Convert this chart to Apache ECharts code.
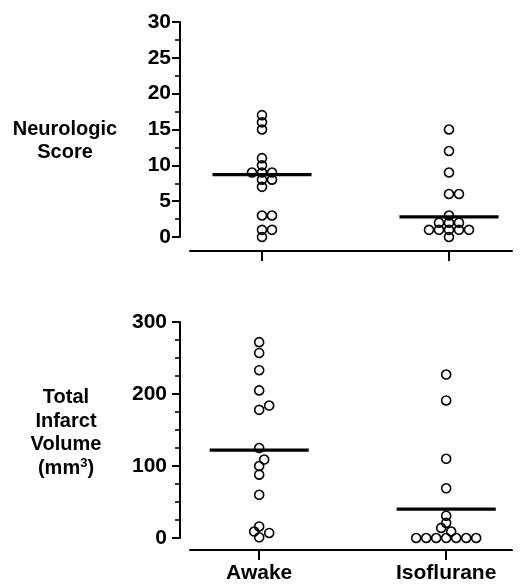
<!DOCTYPE html>
<html>
<head>
<meta charset="utf-8">
<script src="https://cdn.jsdelivr.net/npm/echarts@6/dist/echarts.min.js"></script>
<style>
    html, body { margin: 0; padding: 0; background: #fff; }
    #chart { width: 520px; height: 585px; }
</style>
</head>
<body>
<div id="chart"></div>
<script>
    // groups on the x axis
    const categories = ["Awake", "Isoflurane"];

    // neurologic score, one value per animal
    const scoreAwake = [17, 16, 15, 11, 10, 9, 9, 9, 8, 8, 7, 3, 3, 1, 1, 0];
    const scoreIso = [15, 12, 9, 6, 6, 3, 2, 2, 2, 1, 1, 1, 1, 1, 0];
    const scoreBar = [8.7, 2.8];

    // total infarct volume (mm3)
    const volumeAwake = [272, 257, 233, 205, 184, 178, 125, 109, 100, 88, 60, 16, 9, 7, 1];
    const volumeIso = [227, 191, 110, 69, 31, 21, 14, 9, 0, 0, 0, 0, 0, 0, 0];
    const volumeBar = [122, 40];

    // y axis ranges: [min, max, interval, minor splits]
    const scoreAxis = [0, 30, 5, 2];
    const volumeAxis = [0, 300, 100, 4];

    const FONT = "Liberation Sans";
    const PX_PER_X = 187;   // pixels per x unit (one group)
    const STEP = 5;         // swarm step, px
    const MIN_DIST = 7;     // px between point centres

    // simple beeswarm: spread points that would overlap sideways
    function swarm(values, group, pxPerY) {
        const sorted = values.slice().sort((a, b) => a - b);
        const placed = [];
        const out = [];
        sorted.forEach(v => {
            const y = v * pxPerY;
            for (let k = 0; k < 60; k++) {
                const dx = (k % 2 ? 1 : -1) * Math.ceil(k / 2) * STEP;
                if (placed.every(p => Math.hypot(p[0] - dx, p[1] - y) >= MIN_DIST)) {
                    placed.push([dx, y]);
                    out.push([group + dx / PX_PER_X, v]);
                    break;
                }
            }
        });
        return out;
    }

    function barLine(group, value, xIdx) {
        return {
            type: "line",
            xAxisIndex: xIdx,
            yAxisIndex: xIdx,
            symbol: "none",
            silent: true,
            lineStyle: { color: "#000", width: 3.3 },
            data: [[group - 0.265, value], [group + 0.265, value]]
        };
    }

    function dots(data, xIdx) {
        return {
            type: "scatter",
            xAxisIndex: xIdx,
            yAxisIndex: xIdx,
            symbol: "circle",
            symbolSize: 9,
            itemStyle: { color: "rgba(0,0,0,0)", borderColor: "#000", borderWidth: 1.6, opacity: 1 },
            data: data
        };
    }

    function yAxis(idx, range, margin) {
        return {
            gridIndex: idx,
            type: "value",
            min: range[0],
            max: range[1],
            interval: range[2],
            offset: 10,
            axisLine: { show: true, onZero: false, lineStyle: { color: "#000", width: 2 } },
            axisTick: { show: true, length: 8, lineStyle: { color: "#000", width: 2 } },
            minorTick: { show: true, splitNumber: range[3], length: 5, lineStyle: { color: "#000", width: 1.6 } },
            splitLine: { show: false },
            axisLabel: { color: "#000", fontSize: 21, fontWeight: "bold", fontFamily: FONT, margin: margin }
        };
    }

    function xAxis(idx, min, max, offset, showLabel) {
        return {
            gridIndex: idx,
            type: "value",
            position: "bottom",
            min: min,
            max: max,
            offset: offset,
            axisLine: { show: true, onZero: false, lineStyle: { color: "#000", width: 2 } },
            axisTick: { show: true, customValues: [0, 1], length: 10, lineStyle: { color: "#000", width: 2 } },
            splitLine: { show: false },
            axisLabel: {
                show: showLabel,
                customValues: [0, 1],
                formatter: v => categories[Math.round(v)],
                color: "#000",
                fontSize: 21,
                fontWeight: "bold",
                fontFamily: FONT,
                margin: 13
            }
        };
    }

    const scorePx = 215 / (scoreAxis[1] - scoreAxis[0]);
    const volumePx = 216 / (volumeAxis[1] - volumeAxis[0]);

    const chart = echarts.init(document.getElementById("chart"));
    chart.setOption({
        animation: false,
        grid: [
            { left: 190, right: 8, top: 22, height: 215 },
            { left: 190, right: 8, top: 322, height: 216 }
        ],
        xAxis: [
            xAxis(0, -0.385, 1.337, 14, false),
            xAxis(1, -0.37, 1.352, 12, true)
        ],
        yAxis: [
            yAxis(0, scoreAxis, 9),
            yAxis(1, volumeAxis, 13)
        ],
        graphic: [
            {
                type: "text",
                x: 65,
                y: 141,
                style: {
                    text: "Neurologic\nScore",
                    fontSize: 20,
                    fontWeight: "bold",
                    fontFamily: FONT,
                    lineHeight: 23,
                    textAlign: "center",
                    textVerticalAlign: "middle",
                    fill: "#000"
                }
            },
            {
                type: "text",
                x: 66,
                y: 433,
                style: {
                    text: "Total\nInfarct\nVolume\n(mm{sup|3})",
                    fontSize: 20,
                    fontWeight: "bold",
                    fontFamily: FONT,
                    lineHeight: 23.5,
                    textAlign: "center",
                    textVerticalAlign: "middle",
                    fill: "#000",
                    rich: {
                        sup: { fontSize: 13, fontWeight: "bold", fontFamily: FONT, lineHeight: 16, verticalAlign: "top", fill: "#000" }
                    }
                }
            }
        ],
        series: [
            dots(swarm(scoreAwake, 0, scorePx), 0),
            dots(swarm(scoreIso, 1, scorePx), 0),
            barLine(0, scoreBar[0], 0),
            barLine(1, scoreBar[1], 0),
            dots(swarm(volumeAwake, 0, volumePx), 1),
            dots(swarm(volumeIso, 1, volumePx), 1),
            barLine(0, volumeBar[0], 1),
            barLine(1, volumeBar[1], 1)
        ]
    });
</script>
</body>
</html>
